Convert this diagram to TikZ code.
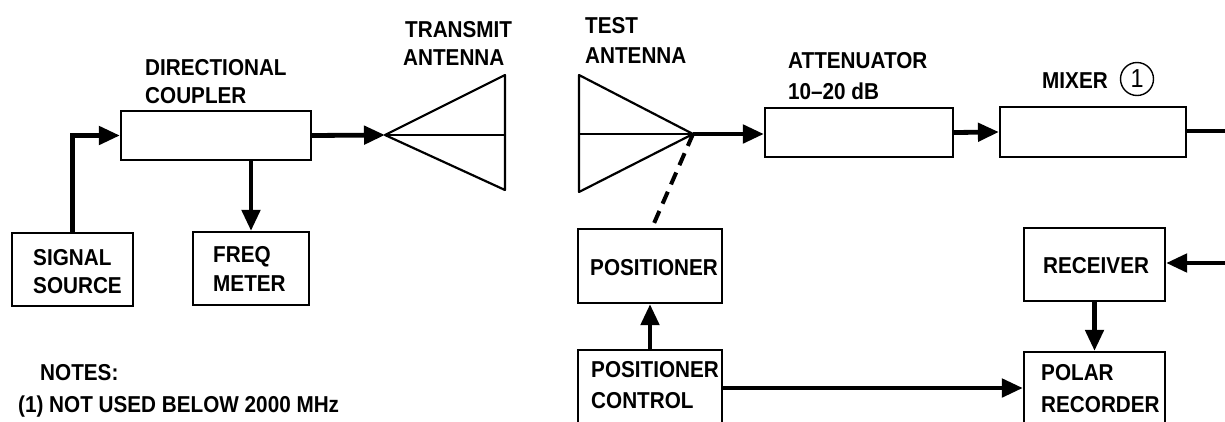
\documentclass[tikz,border=0pt]{standalone}
\usepackage{fontspec}
\setmainfont{Liberation Sans}[FakeStretch=0.9]
\usetikzlibrary{arrows.meta,calc}
\tikzset{
  blk/.style={draw, line width=2.2pt, rectangle, inner sep=0pt},
  lbl/.style={anchor=base west, inner sep=0pt, font=\fontsize{23}{27}\selectfont\bfseries},
  conn/.style={line width=4.8pt},
  arr/.style={conn, -{Triangle[length=21pt,width=18pt]}},
  ant/.style={line width=2.2pt, line join=round},
}
\begin{document}
\begin{tikzpicture}[x=1pt,y=-1pt]
\useasboundingbox (0,0) rectangle (1225,421);
% boxes
\node[blk, minimum width=190pt, minimum height=49pt] (coupler) at (216,135.5) {};
\node[blk, minimum width=121pt, minimum height=73pt] (src) at (72.5,269.5) {};
\node[blk, minimum width=116pt, minimum height=73pt] (freq) at (251,268.5) {};
\node[blk, minimum width=188pt, minimum height=49pt] (atten) at (859,132.5) {};
\node[blk, minimum width=186pt, minimum height=50pt] (mixer) at (1093,132) {};
\node[blk, minimum width=141pt, minimum height=73pt] (recv) at (1094.5,264.5) {};
\node[blk, minimum width=141pt, minimum height=72pt] (polar) at (1094.5,388) {};
\node[blk, minimum width=144pt, minimum height=74pt] (pos) at (650,266) {};
\node[blk, minimum width=144pt, minimum height=76pt] (posctl) at (650,388) {};
% labels
\node[lbl] (t1) at (145,75) {DIRECTIONAL};
\node[lbl] (t2) at (145,103) {COUPLER};
\node[lbl] (t3) at (405,37) {TRANSMIT};
\node[lbl] (t4) at (403,65) {ANTENNA};
\node[lbl] (t5) at (585,33) {TEST};
\node[lbl] (t6) at (585,63) {ANTENNA};
\node[lbl] (t7) at (788,68) {ATTENUATOR};
\node[lbl] (t8) at (788,99) {10--20 dB};
\node[lbl] (t9) at (1042,88) {MIXER};
\node[draw, circle, line width=1.4pt, minimum size=33pt, inner sep=0pt, font=\fontsize{26}{30}\selectfont\rmfamily] (c1) at (1137,79) {1};
\node[lbl] (t10) at (33,265) {SIGNAL};
\node[lbl] (t11) at (33,293) {SOURCE};
\node[lbl] (t12) at (213,262) {FREQ};
\node[lbl] (t13) at (213,291) {METER};
\node[lbl] (t14) at (590,275) {POSITIONER};
\node[lbl] (t15) at (591,377) {POSITIONER};
\node[lbl] (t16) at (591,408) {CONTROL};
\node[lbl] (t17) at (1043,273) {RECEIVER};
\node[lbl] (t18) at (1041,380) {POLAR};
\node[lbl] (t19) at (1041,412) {RECORDER};
\node[lbl] (t20) at (40,380) {NOTES:};
\node[lbl] (t21) at (18,412) {(1) NOT USED BELOW 2000 MHz};
% antennas
\coordinate (txapex) at (385,135);
\coordinate (txtop) at (505,75);
\coordinate (txbot) at (505,190);
\draw[ant] (txapex) -- (txtop) -- (txbot) -- cycle;
\draw[ant] (txapex) -- (txapex -| txtop);
\coordinate (rxapex) at (693,134);
\coordinate (rxtop) at (579,75);
\coordinate (rxbot) at (579,192);
\draw[ant] (rxapex) -- (rxtop) -- (rxbot) -- cycle;
\draw[ant] (rxapex) -- (rxapex -| rxtop);
% connectors
\draw[arr] (src.north) |- (coupler.west);
\draw[arr] (freq.north |- coupler.south) -- (freq.north);
\draw[arr] (coupler.east) -- (txapex);
\draw[arr] (rxapex) -- (rxapex -| atten.west);
\draw[arr] (atten.east) -- (mixer.west);
\coordinate (mixout) at (1230,131);
\draw[conn] (mixer.east |- mixout) -- (mixout);
\coordinate (recin) at (1230,263);
\draw[arr] (recin) -- (recin -| recv.east);
\draw[arr] (recv.south) -- (polar.north);
\draw[arr] (posctl.north) -- (pos.south);
\draw[arr] (posctl.east) -- (polar.west);
\draw[line width=4pt, dash pattern=on 13pt off 8pt] (rxapex) -- ([xshift=2pt]pos.north);
\end{tikzpicture}
\end{document}
